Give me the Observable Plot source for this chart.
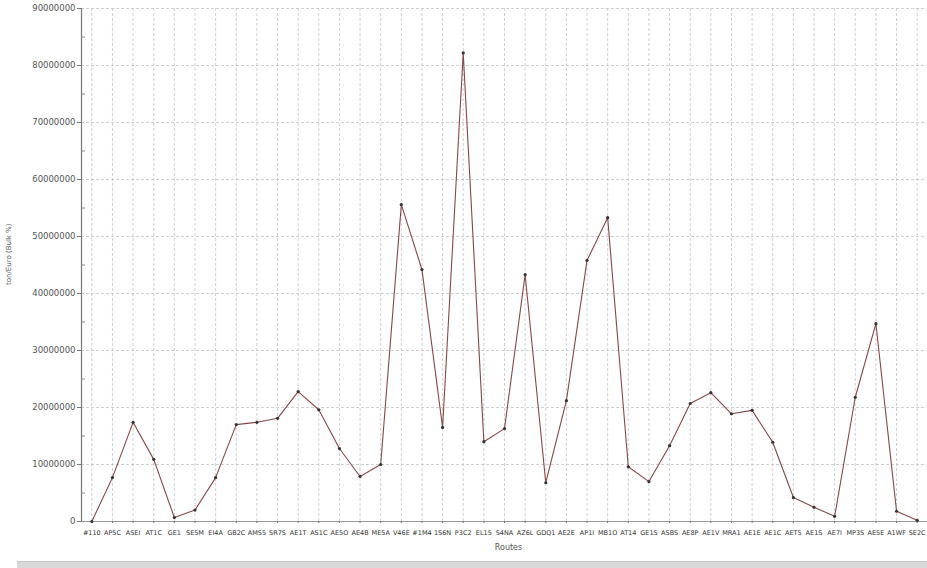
<!DOCTYPE html>
<html>
<head>
<meta charset="utf-8">
<script src="https://cdn.jsdelivr.net/npm/d3@7"></script>
<script src="https://cdn.jsdelivr.net/npm/@observablehq/plot@0.6"></script>
<style>
  html, body { margin: 0; padding: 0; background: #fff; }
  #chart { width: 927px; height: 568px; position: relative; overflow: hidden; }
  #bar { position: absolute; left: 17px; top: 561px; width: 910px; height: 7px; background: #d9d9d9; border-top: 1px solid #c8c8c8; }
</style>
</head>
<body>
<div id="chart"><div id="bar"></div></div>
<script>
const routes = [
  "#110", "AP5C", "ASEI", "AT1C", "GE1", "SE5M", "EI4A", "GB2C", "AMS5", "SR7S",
  "AE1T", "AS1C", "AE5O", "AE4B", "ME5A", "V46E", "#1M4", "1S6N", "P3C2", "EL15",
  "S4NA", "AZ6L", "GDQ1", "AE2E", "AP1I", "MB1O", "AT14", "GE1S", "ASBS", "AE8P",
  "AE1V", "MRA1", "AE1E", "AE1C", "AET5", "AE1S", "AE7I", "MP3S", "AE5E", "A1WF",
  "SE2C"
];
const values = [
  0, 7.7e6, 17.4e6, 10.9e6, 0.7e6, 2.0e6, 7.7e6, 17.0e6, 17.4e6, 18.1e6,
  22.8e6, 19.6e6, 12.8e6, 7.9e6, 10.0e6, 55.6e6, 44.2e6, 16.5e6, 82.2e6, 14.0e6,
  16.3e6, 43.3e6, 6.8e6, 21.2e6, 45.8e6, 53.3e6, 9.6e6, 7.0e6, 13.3e6, 20.7e6,
  22.6e6, 18.9e6, 19.5e6, 13.9e6, 4.2e6, 2.5e6, 0.9e6, 21.8e6, 34.7e6, 1.8e6,
  0.2e6
];
const yTicks = [0, 10000000, 20000000, 30000000, 40000000, 50000000, 60000000, 70000000, 80000000, 90000000];
const yMinor = [5000000, 15000000, 25000000, 35000000, 45000000, 55000000, 65000000, 75000000, 85000000];

const data = routes.map((r, i) => ({route: r, value: values[i]}));

const plot = Plot.plot({
  width: 927,
  height: 555,
  marginLeft: 81,
  marginRight: 0,
  marginTop: 8,
  marginBottom: 34,
  style: {fontFamily: "DejaVu Sans", fontSize: "8px", color: "#555", background: "#fff"},
  x: {type: "point", domain: routes, padding: 0.5, round: false, label: null},
  y: {domain: [0, 90000000], label: null},
  marks: [
    Plot.gridX(routes, {stroke: "#bbb", strokeOpacity: 1, strokeDasharray: "3,2", strokeWidth: 0.7}),
    Plot.gridY(yTicks, {stroke: "#bbb", strokeOpacity: 1, strokeDasharray: "3,2", strokeWidth: 0.7}),
    Plot.frame({anchor: "left", stroke: "#777", strokeWidth: 1.2}),
    Plot.ruleY([0], {stroke: "#999", strokeWidth: 1}),
    Plot.axisY(yTicks, {tickSize: 4, tickPadding: 2, tickFormat: d => String(d), fontSize: 8.5, fill: "#555", stroke: "#777", label: null}),
    Plot.axisY(yMinor, {tickSize: 4, dx: 4, text: null, stroke: "#888", label: null}),
    Plot.axisX(routes, {tickSize: 2, tickPadding: 7, fontSize: 6.5, fill: "#333", stroke: "#777", label: null}),
    Plot.line(data, {x: "route", y: "value", stroke: "#8a4646", strokeWidth: 1.1}),
    Plot.dot(data, {x: "route", y: "value", r: 1.6, fill: "#333", stroke: "none"}),
    Plot.text(["Routes"], {frameAnchor: "bottom", dy: 28, dx: 4, fontSize: 8, fill: "#555"}),
    Plot.text(["ton/Euro (Bulk %)"], {frameAnchor: "left", dx: -73, dy: 20, rotate: -90, fontSize: 7, fill: "#555"})
  ]
});
document.getElementById("chart").insertBefore(plot, document.getElementById("bar"));
</script>
</body>
</html>
